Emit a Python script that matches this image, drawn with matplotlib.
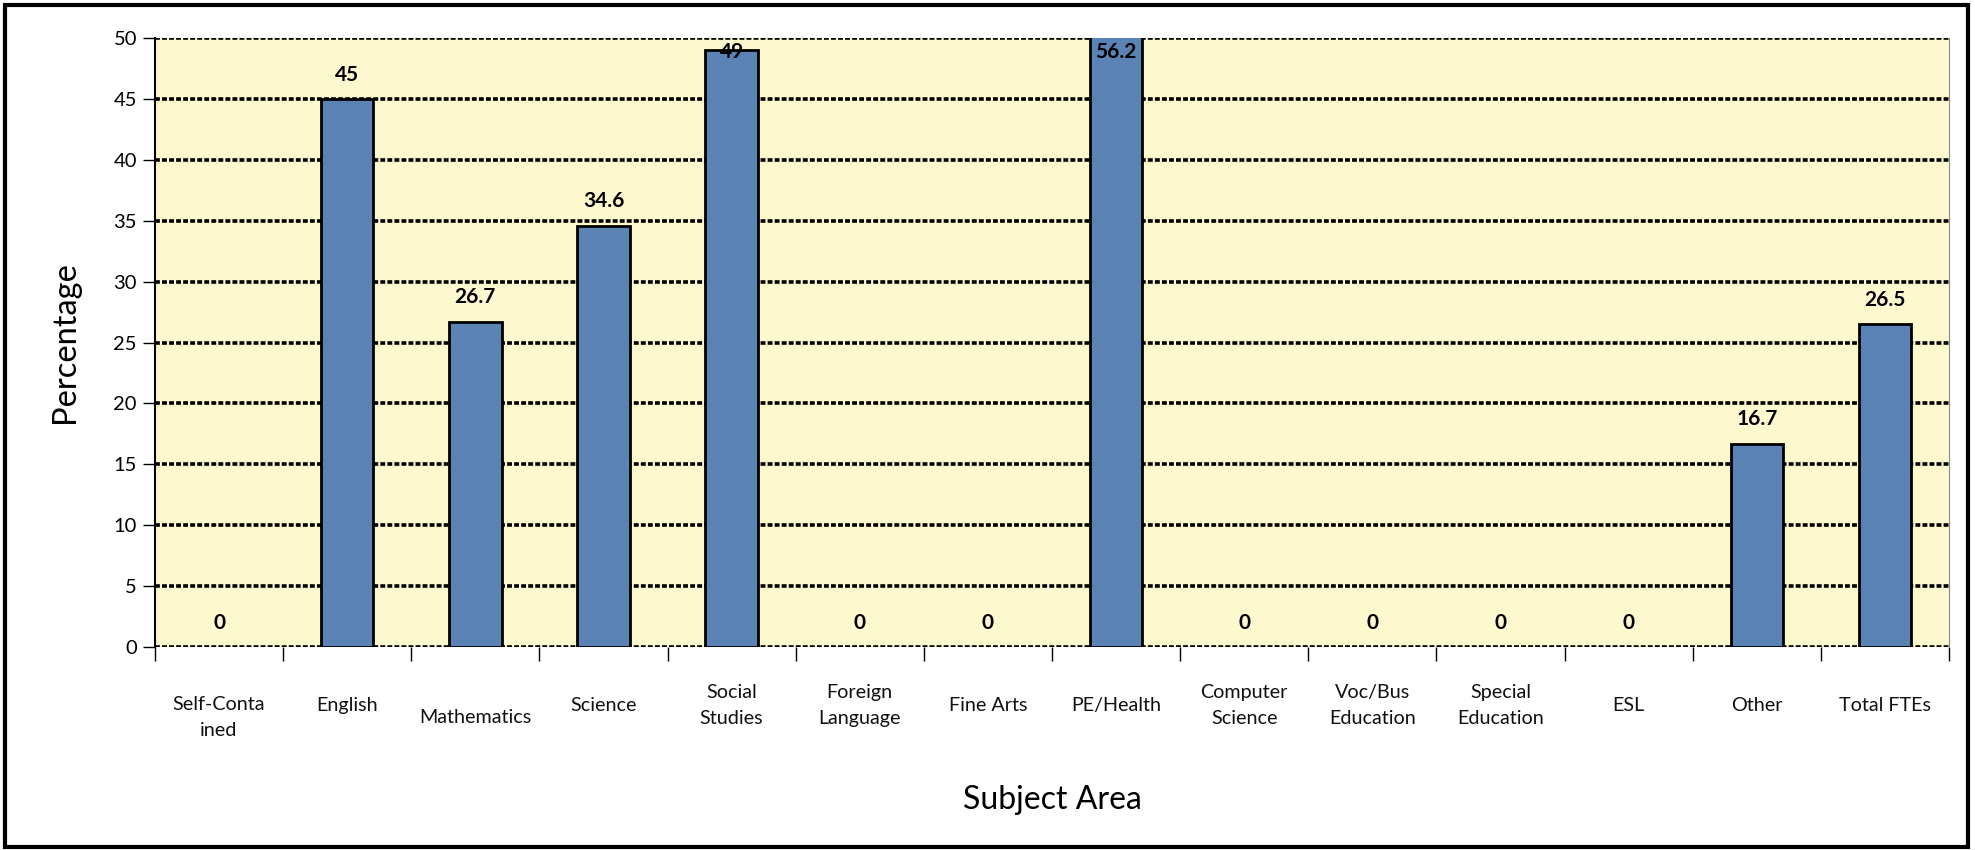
import matplotlib
matplotlib.use("Agg")
import matplotlib.pyplot as plt
from matplotlib.patches import Rectangle
import matplotlib.transforms as mtransforms

# --- data -------------------------------------------------------------------
subjects = ["Self-Conta\nined", "English", "Mathematics", "Science",
            "Social\nStudies", "Foreign\nLanguage", "Fine Arts", "PE/Health",
            "Computer\nScience", "Voc/Bus\nEducation", "Special\nEducation",
            "ESL", "Other", "Total FTEs"]
percent = [0, 45, 26.7, 34.6, 49, 0, 0, 56.2, 0, 0, 0, 0, 16.7, 26.5]
yticks = [0, 5, 10, 15, 20, 25, 30, 35, 40, 45, 50]

plt.rcParams["font.family"] = ["Lato", "DejaVu Sans"]

BAR = "#5B82B4"
BG = "#FEF8CF"
YMAX = 50

fig = plt.figure(figsize=(19.75, 8.5), dpi=100)
ax = fig.add_axes([155 / 1975, 1 - 647 / 850, (1949 - 155) / 1975, (647 - 38) / 850])
ax.set_facecolor(BG)

x = list(range(len(subjects)))
bars = ax.bar(x, percent, width=0.41, color=BAR, edgecolor="black",
              linewidth=2, zorder=3)
# Excel draws nothing for zero-height bars
for b, v in zip(bars, percent):
    if v == 0:
        b.set_visible(False)

ax.set_xlim(-0.5, len(subjects) - 0.5)
ax.set_ylim(0, YMAX)
ax.set_yticks(yticks)
ax.tick_params(axis="y", labelsize=14.5, length=9, width=1, pad=4)
ax.yaxis.grid(True, color="black", linestyle=(0, (1.35, 0.6)), linewidth=2.6, zorder=1)
ax.set_axisbelow(True)

# category boundaries as ticks, labels drawn separately
ax.set_xticks([i - 0.5 for i in range(len(subjects) + 1)])
ax.set_xticklabels([])
ax.tick_params(axis="x", length=10, width=1, direction="out")

ax.spines["top"].set_visible(False)
ax.spines["right"].set_color("#888888")
ax.spines["left"].set_linewidth(1.5)
ax.spines["bottom"].set_visible(False)

# category labels under the axis (Excel style: mid-aligned, a few nudged)
trans = mtransforms.blended_transform_factory(ax.transData, ax.transAxes)
nudged = {"Self-Conta\nined", "Mathematics"}
for i, lab in enumerate(subjects):
    yoff = -0.116 if lab in nudged else -0.096
    ax.text(i, yoff, lab, transform=trans, ha="center", va="center",
            fontsize=14.2, linespacing=1.6, color="#111111")

# value labels, kept inside the plot area like Excel does
for i, v in enumerate(percent):
    ax.text(i, min(v + 2.0, YMAX - 1.15), f"{v:g}", ha="center", va="center",
            fontsize=15, fontweight="bold", zorder=5)

ax.set_ylabel("Percentage", fontsize=23.5, labelpad=24)
fig.text(1052 / 1975, 1 - 800 / 850, "Subject Area", ha="center", va="center",
         fontsize=23)

# outer chart border
fig.patches.append(Rectangle((5 / 1975, 3 / 850), 1963 / 1975, 842 / 850,
                             transform=fig.transFigure, fill=False,
                             edgecolor="black", linewidth=3))

fig.savefig("out.png", dpi=100)
